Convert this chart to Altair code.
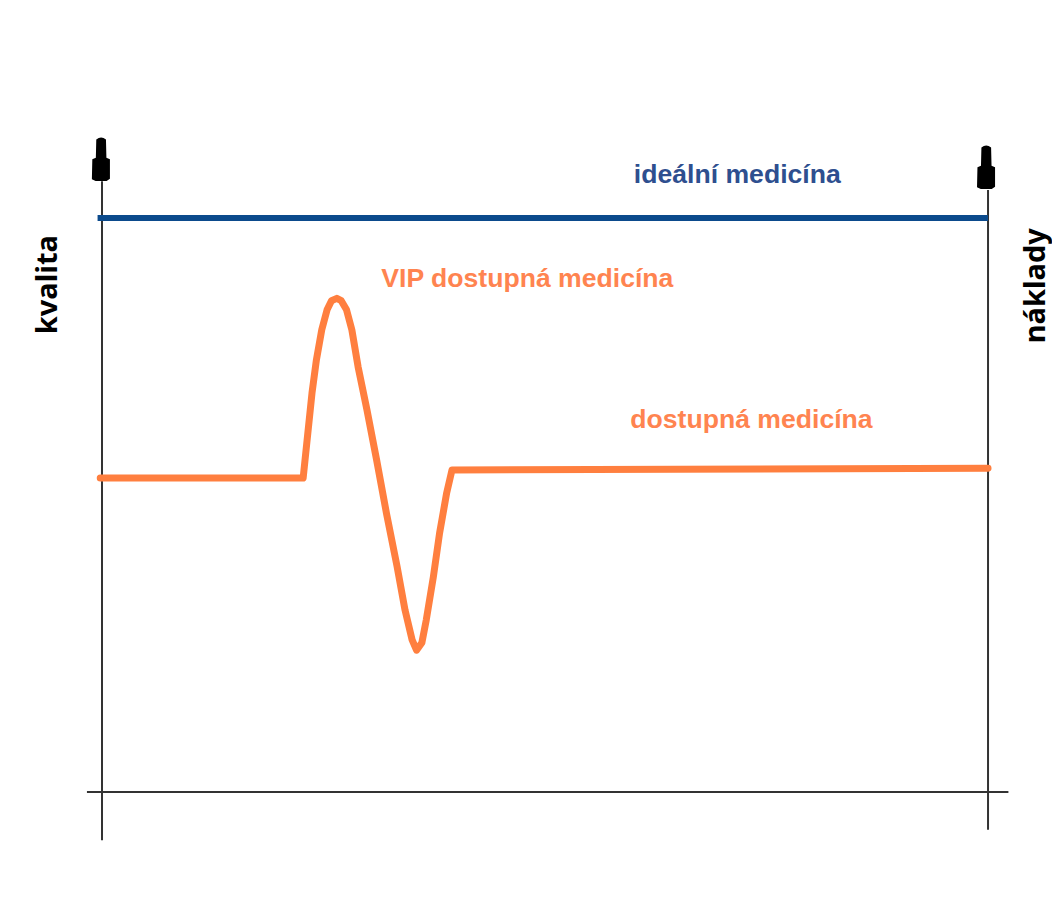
import altair as alt
import pandas as pd

# Abstract units: x = cost (0 = left axis, 100 = right axis), y = quality (0 = baseline, 100 = ideal)
ideal_x = [-0.5, 100.0]
ideal_y = [100.0, 100.0]

avail_x = [-0.2, 22.7, 23.7, 24.2, 24.8, 25.4, 25.9, 26.5, 27.0, 27.6, 28.2, 28.9, 29.9,
           31.0, 32.1, 33.3, 34.2, 35.0, 35.5, 36.1, 36.6, 37.4, 38.1, 38.9, 39.5, 100.0]
avail_y = [54.7, 54.7, 69.5, 75.3, 80.5, 84.0, 85.6, 86.0, 85.6, 84.0, 80.5, 74.1, 66.6,
           57.8, 48.6, 39.3, 31.7, 26.5, 24.7, 26.0, 30.0, 37.5, 45.1, 52.1, 56.1, 56.4]

# axis lines: (x, y) -> (x2, y2)
axis_x1 = [0.0, 100.0, -1.7]
axis_y1 = [106.4, 104.9, 0.0]
axis_x2 = [0.0, 100.0, 102.3]
axis_y2 = [-8.4, -6.6, 0.0]

arrow_x = [-0.1, 99.8]
arrow_y = [110.3, 108.9]

series_labels = ["ideální medicína", "VIP dostupná medicína", "dostupná medicína"]
series_label_x = [71.7, 48.0, 73.3]
series_label_y = [106.1, 88.0, 63.5]
series_label_color = ["#2E4F8F", "#FF8450", "#FF8450"]

axis_titles = ["kvalita", "náklady"]
axis_title_x = [-5.1, 106.4]
axis_title_y = [88.4, 88.2]

xs = alt.Scale(domain=[-10.61, 107.22], nice=False, zero=False)
ys = alt.Scale(domain=[-20.91, 136.59], nice=False, zero=False)

ideal = pd.DataFrame({"x": ideal_x, "y": ideal_y, "i": range(len(ideal_x))})
avail = pd.DataFrame({"x": avail_x, "y": avail_y, "i": range(len(avail_x))})
axes = pd.DataFrame({"x": axis_x1, "y": axis_y1, "x2": axis_x2, "y2": axis_y2})
arrows = pd.DataFrame({"x": arrow_x, "y": arrow_y})
labels = pd.DataFrame({"t": series_labels, "x": series_label_x, "y": series_label_y,
                       "c": series_label_color})
titles = pd.DataFrame({"t": axis_titles, "x": axis_title_x, "y": axis_title_y})

X = lambda: alt.X("x:Q", scale=xs, axis=None)
Y = lambda: alt.Y("y:Q", scale=ys, axis=None)

axis_layer = alt.Chart(axes).mark_rule(color="#333333", strokeWidth=2).encode(
    x=X(), y=Y(), x2="x2:Q", y2="y2:Q")

arrow_shape = ("M-0.22,-0.88 Q0,-1.06 0.22,-0.88 L0.24,-0.05 L0.4,0.02 L0.4,0.9 "
               "L0.25,1 L-0.25,1 L-0.42,0.92 L-0.4,0.02 L-0.24,-0.05 Z")
arrow_layer = alt.Chart(arrows).mark_point(
    shape=arrow_shape, filled=True, color="black", opacity=1, size=1936, strokeWidth=0
).encode(x=X(), y=Y())

ideal_layer = alt.Chart(ideal).mark_line(color="#0B4A8C", strokeWidth=6).encode(
    x=X(), y=Y(), order="i:Q")

avail_layer = alt.Chart(avail).mark_line(
    color="#FF7F3F", strokeWidth=7, strokeCap="round", strokeJoin="round"
).encode(x=X(), y=Y(), order="i:Q")

label_layer = alt.Chart(labels).mark_text(
    font="Liberation Sans", fontWeight="bold", fontSize=26.6, align="center", baseline="alphabetic"
).encode(x=X(), y=Y(), text="t:N", color=alt.Color("c:N", scale=None))

title_layer = alt.Chart(titles).mark_text(
    font="Noto Sans", fontWeight="bold", fontSize=29, angle=270, align="center",
    baseline="alphabetic", color="black"
).encode(x=X(), y=Y(), text="t:N")

chart = alt.layer(
    axis_layer, ideal_layer, avail_layer, arrow_layer, label_layer, title_layer
).properties(
    width=1044, height=904, padding=0, background="white",
    autosize=alt.AutoSizeParams(type="none")
).configure_view(stroke=None)

chart.save("out.html", embed_options={"renderer": "svg", "actions": False})
